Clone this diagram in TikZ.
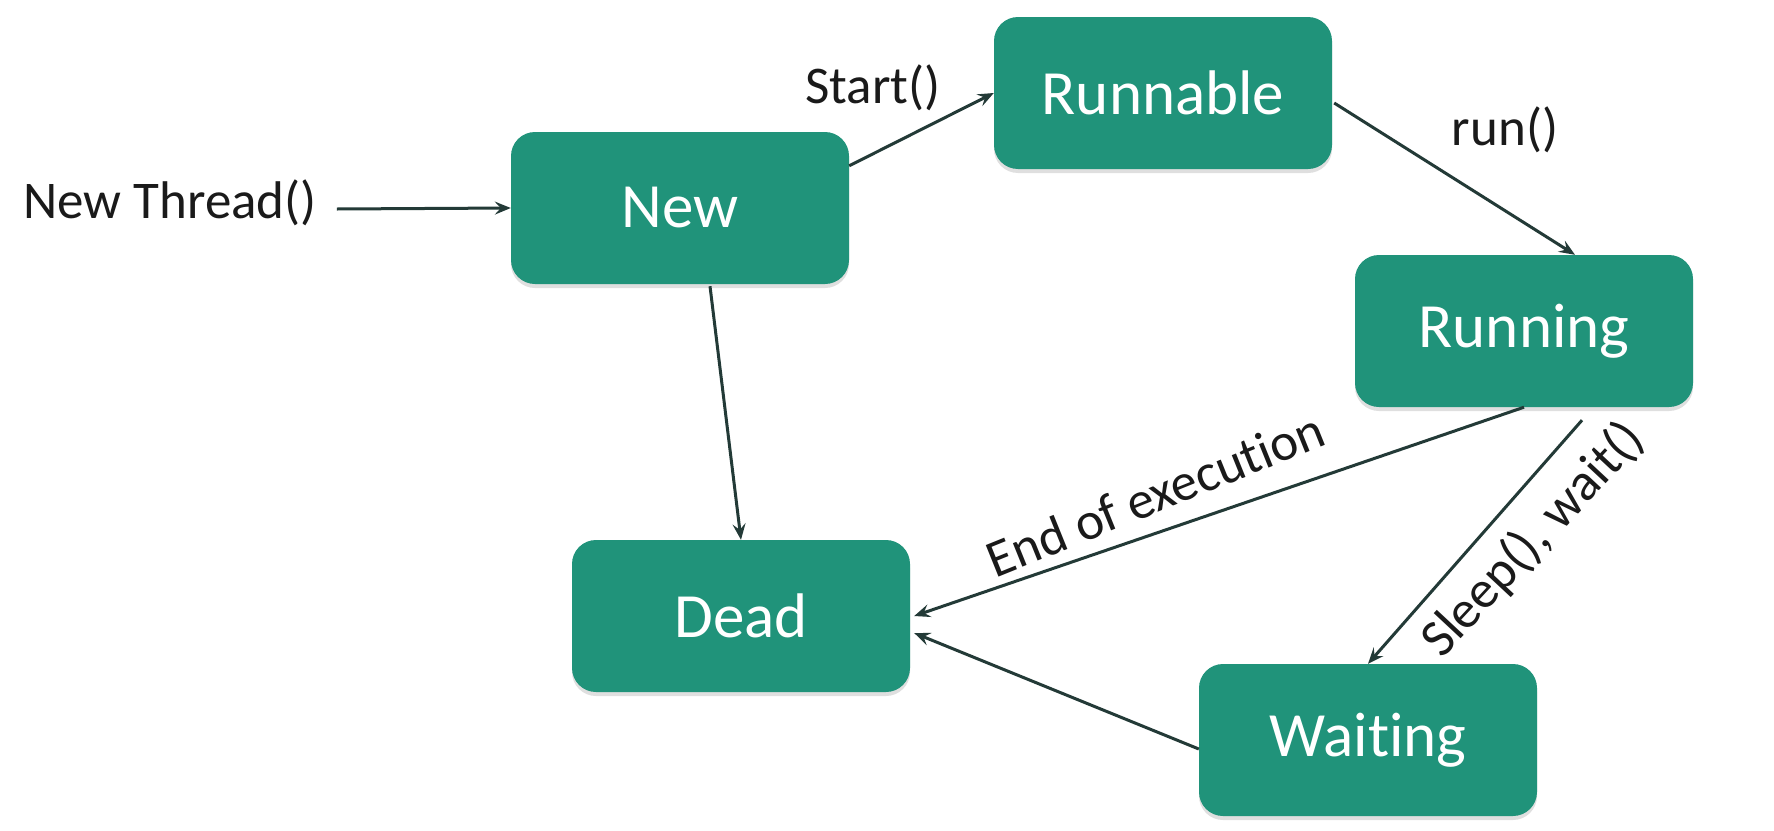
\documentclass[tikz,border=0pt]{standalone}
\usepackage{fontspec}
\setmainfont{Carlito}[RawFeature={-liga;-clig;-calt;-dlig}]
\usetikzlibrary{arrows.meta,calc,shadows}
\definecolor{boxteal}{HTML}{20937A}
\definecolor{linedark}{HTML}{233A37}
\definecolor{labelblack}{HTML}{1A1A1A}
\tikzset{
  state/.style={draw=none, fill=boxteal, rounded corners=24pt, minimum width=338pt,
    minimum height=152pt, inner sep=0pt, text=white,
    font=\fontsize{63}{70}\selectfont,
    drop shadow={opacity=0.25, shadow xshift=0pt, shadow yshift=-4pt}},
  lbl/.style={text=labelblack, inner sep=0pt, font=\fontsize{53}{60}\selectfont},
  conn/.style={draw=linedark, line width=3pt,
    -{Stealth[length=16pt,width=13pt,inset=6pt]}}
}
\begin{document}
\begin{tikzpicture}[x=1pt,y=-1pt]
\useasboundingbox (0,0) rectangle (1774,830);
\fill[white] (0,0) rectangle (1774,830);

\node[state] (new) at (680,208) {New};
\node[state] (runnable) at (1163,93) {Runnable};
\node[state] (running) at (1524,331) {Running};
\node[state] (dead) at (741,616) {Dead};
\node[state] (waiting) at (1368,740) {Wait\kern0pt ing};

\node[lbl] (nt) at (170,203) {New Thread()};
\node[lbl] (lstart) at (873,88) {Start()};
\node[lbl] (lrun) at (1505,130) {run()};
\node[lbl, rotate=22] (lend) at (1155,494) {End of execut\kern0pt ion};
\node[lbl, rotate=47] (lsleep) at (1533,540) {Sleep(), wait()};

\coordinate (ntend) at ($(nt.east)+(20,6)$);
\coordinate (newout) at ($(new.north east)+(0,34)$);
\coordinate (runout) at ($(runnable.east)+(2,10)$);
\coordinate (runin) at ($(running.north)+(51,0)$);
\coordinate (newdown) at ($(new.south)+(30,2)$);
\coordinate (sleepout) at ($(running.south)+(58,13)$);
\coordinate (waitout) at ($(waiting.west)+(0,9)$);
\coordinate (deadin1) at ($(dead.east)+(4,0)$);
\coordinate (deadin2) at ($(dead.east)+(4,17)$);

\draw[conn] (ntend) -- (new.west);
\draw[conn] (newout) -- (runnable.west);
\draw[conn] (runout) -- (runin);
\draw[conn] (newdown) -- (dead.north);
\draw[conn] (running.south) -- (deadin1);
\draw[conn] (sleepout) -- (waiting.north);
\draw[conn] (waitout) -- (deadin2);
\end{tikzpicture}
\end{document}
